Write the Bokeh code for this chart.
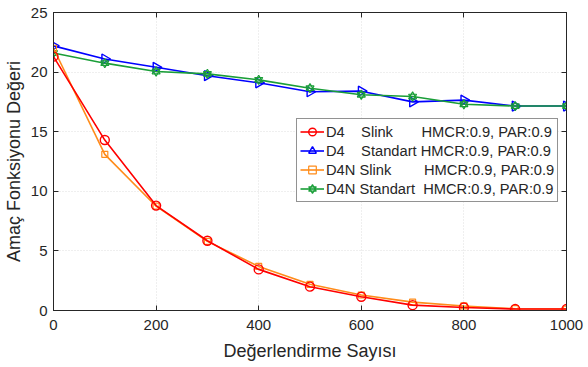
import numpy as np
from bokeh.plotting import figure
from bokeh.models import Legend, LegendItem, LinearAxis, Range1d, FixedTicker
from bokeh.embed import file_html
from bokeh.resources import INLINE

# ---- data ----
evals = [0, 100, 200, 300, 400, 500, 600, 700, 800, 900, 1000]
d4_slink = [21.3, 14.3, 8.8, 5.85, 3.45, 2.0, 1.15, 0.45, 0.25, 0.12, 0.12]
d4_standart = [22.2, 21.1, 20.4, 19.7, 19.1, 18.35, 18.4, 17.5, 17.65, 17.15, 17.15]
d4n_slink = [22.0, 13.1, 8.75, 5.8, 3.7, 2.2, 1.3, 0.7, 0.38, 0.15, 0.12]
d4n_standart = [21.6, 20.75, 20.05, 19.85, 19.35, 18.65, 18.1, 17.95, 17.3, 17.15, 17.15]

labels = ["D4    Slink       HMCR:0.9, PAR:0.9",
          "D4    Standart HMCR:0.9, PAR:0.9",
          "D4N Slink        HMCR:0.9, PAR:0.9",
          "D4N Standart  HMCR:0.9, PAR:0.9"]
x_ticks = [0, 200, 400, 600, 800, 1000]
y_ticks = [0, 5, 10, 15, 20, 25]
x_label = "Değerlendirme Sayısı"
y_label = "Amaç Fonksiyonu Değeri"

RED, BLUE, ORANGE, GREEN = "#ff0000", "#0000ff", "#ff8c1a", "#1a9e38"
TXT = "#262626"
FONT = "Liberation Sans"

p = figure(width=584, height=366, output_backend="svg", toolbar_location=None,
           x_range=Range1d(0, 1000), y_range=Range1d(0, 25),
           min_border_left=52, min_border_right=18, min_border_top=12, min_border_bottom=56)
p.outline_line_color = TXT
p.outline_line_width = 1

for ax in (p.xaxis[0], p.yaxis[0]):
    ax.major_tick_in = 5
    ax.major_tick_out = 0
    ax.minor_tick_line_color = None
    ax.axis_line_color = TXT
    ax.major_tick_line_color = TXT
    ax.major_label_text_font = FONT
    ax.major_label_text_font_size = "15px"
    ax.major_label_text_color = TXT
    ax.axis_label_text_font = FONT
    ax.axis_label_text_font_size = "18px"
    ax.axis_label_text_font_style = "normal"
    ax.axis_label_text_color = TXT
p.xaxis[0].ticker = FixedTicker(ticks=x_ticks)
p.yaxis[0].ticker = FixedTicker(ticks=y_ticks)
p.xaxis[0].axis_label = x_label
p.yaxis[0].axis_label = y_label
p.xaxis[0].major_label_standoff = 9
p.yaxis[0].major_label_standoff = 6
p.xaxis[0].axis_label_standoff = 8
p.yaxis[0].axis_label_standoff = 4

for loc, ticks in (("right", y_ticks), ("above", x_ticks)):
    ax = LinearAxis(ticker=FixedTicker(ticks=ticks), major_tick_in=5, major_tick_out=0,
                    minor_tick_line_color=None, axis_line_color=TXT, major_tick_line_color=TXT,
                    major_label_text_color=None, major_label_standoff=0)
    p.add_layout(ax, loc)

p.grid.grid_line_color = TXT
p.grid.grid_line_alpha = 0.15
p.grid.grid_line_dash = "1 2"
p.xgrid.ticker = FixedTicker(ticks=x_ticks)
p.ygrid.ticker = FixedTicker(ticks=y_ticks)

lw = 1.6

r2 = p.line(evals, d4_standart, line_color=BLUE, line_width=lw)
m2 = p.scatter(evals, d4_standart, marker="triangle", angle=-np.pi / 2, angle_units="rad", size=10,
               fill_color=None, line_color=BLUE, line_width=1.4)
r4 = p.line(evals, d4n_standart, line_color=GREEN, line_width=lw)
m4a = p.scatter(evals, d4n_standart, marker="triangle", size=8, fill_color=None, line_color=GREEN, line_width=1.2)
m4b = p.scatter(evals, d4n_standart, marker="inverted_triangle", size=8, fill_color=None, line_color=GREEN, line_width=1.2)
r3 = p.line(evals, d4n_slink, line_color=ORANGE, line_width=lw)
m3 = p.scatter(evals, d4n_slink, marker="square", size=6, fill_color=None, line_color=ORANGE, line_width=1.2)
r1 = p.line(evals, d4_slink, line_color=RED, line_width=lw)
m1 = p.scatter(evals, d4_slink, marker="circle", size=9, fill_color=None, line_color=RED, line_width=1.4)

rend_groups = [[r1, m1], [r2, m2], [r3, m3], [r4, m4a, m4b]]
items = [LegendItem(label=lab.replace(" ", "\u00a0"), renderers=rs) for lab, rs in zip(labels, rend_groups)]

legend = Legend(items=items, location=(243, 108), padding=3, margin=0, spacing=0,
                glyph_width=24, glyph_height=19, label_height=19, label_standoff=2,
                label_text_font=FONT, label_text_font_size="14.7px", label_text_color=TXT,
                border_line_color=TXT, border_line_width=1, background_fill_color="white",
                background_fill_alpha=1.0)
p.add_layout(legend, "center")

open("out.html", "w").write(file_html(p, INLINE))
